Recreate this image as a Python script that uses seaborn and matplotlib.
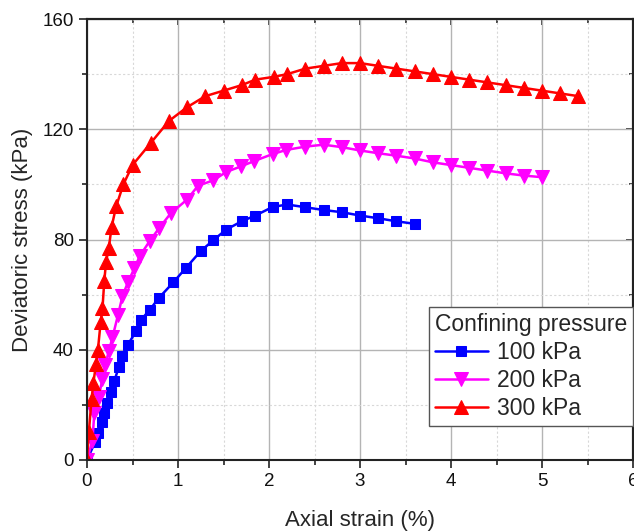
import numpy as np
import pandas as pd
import matplotlib
matplotlib.use("Agg")
import matplotlib.pyplot as plt
import seaborn as sns
from matplotlib.ticker import MultipleLocator

# ---- data ----
x_100 = [0, 0.09, 0.12, 0.16, 0.19, 0.22, 0.26, 0.30, 0.35, 0.39, 0.45, 0.54, 0.59, 0.69,
         0.79, 0.95, 1.09, 1.25, 1.39, 1.53, 1.70, 1.85, 2.04, 2.20, 2.40, 2.60, 2.80,
         3.00, 3.20, 3.40, 3.60]
y_100 = [0, 6.6, 9.7, 13.9, 16.9, 20.7, 24.7, 28.6, 33.8, 37.6, 41.9, 46.7, 50.7, 54.5,
         58.8, 64.5, 69.8, 75.8, 79.8, 83.6, 86.6, 88.7, 91.8, 92.7, 91.7, 90.7, 89.9,
         88.7, 87.7, 86.6, 85.7]

x_200 = [0, 0.06, 0.08, 0.13, 0.17, 0.20, 0.24, 0.28, 0.34, 0.39, 0.45, 0.52, 0.58, 0.69,
         0.79, 0.92, 1.10, 1.22, 1.39, 1.53, 1.69, 1.84, 2.04, 2.19, 2.40, 2.60, 2.80,
         3.00, 3.20, 3.40, 3.60, 3.80, 4.00, 4.20, 4.40, 4.60, 4.80, 5.00]
y_200 = [0, 7.0, 17.0, 23.0, 29.5, 34.5, 39.5, 44.5, 52.5, 59.5, 64.5, 69.5, 74.0, 79.5,
         84.0, 89.5, 94.5, 99.5, 101.5, 104.5, 106.5, 108.5, 111.0, 112.5, 113.7, 114.4, 113.5,
         112.3, 111.3, 110.4, 109.4, 108.0, 107.0, 106.0, 105.0, 104.0, 103.2, 102.6]

x_300 = [0, 0.02, 0.05, 0.07, 0.10, 0.12, 0.15, 0.17, 0.19, 0.21, 0.24, 0.27, 0.32, 0.40,
         0.50, 0.70, 0.90, 1.10, 1.30, 1.50, 1.70, 1.85, 2.05, 2.20, 2.40, 2.60, 2.80,
         3.00, 3.20, 3.40, 3.60, 3.80, 4.00, 4.20, 4.40, 4.60, 4.80, 5.00, 5.20, 5.40]
y_300 = [0, 10, 22, 28, 35, 40, 50, 55, 65, 72, 77, 84.5, 92, 100,
         107, 115, 123, 128, 132, 134, 136, 138, 139, 140, 142, 143, 144,
         144, 143, 142, 141, 140, 139, 138, 137, 136, 135, 134, 133, 132]

labels = ["100 kPa", "200 kPa", "300 kPa"]
colors = ["#0000FF", "#FF00FF", "#FF0000"]
markers = ["s", "v", "^"]
marker_sizes = [7, 9.5, 9.5]

frames = []
for lab, xs, ys in zip(labels, [x_100, x_200, x_300], [y_100, y_200, y_300]):
    frames.append(pd.DataFrame({"strain": xs, "stress": ys, "pressure": lab}))
df = pd.concat(frames, ignore_index=True)

sns.set_theme(style="ticks")
plt.rcParams["font.family"] = ["Liberation Sans", "DejaVu Sans"]

fig = plt.figure(figsize=(6.34, 5.31), dpi=100)
ax = fig.add_axes([87 / 634, 71 / 531, 546 / 634, 441 / 531])

# grid
ax.xaxis.set_major_locator(MultipleLocator(1))
ax.xaxis.set_minor_locator(MultipleLocator(0.5))
ax.yaxis.set_major_locator(MultipleLocator(40))
ax.yaxis.set_minor_locator(MultipleLocator(20))
ax.grid(True, which="major", color="#b4b4b4", lw=1.0, ls="-", zorder=0)
ax.grid(True, which="minor", color="#d8d8d8", lw=0.8, ls=(0, (2, 2)), zorder=0)
ax.set_axisbelow(True)

for lab, col, mk, ms in zip(labels, colors, markers, marker_sizes):
    sub = df[df["pressure"] == lab]
    sns.lineplot(data=sub, x="strain", y="stress", ax=ax, color=col, marker=mk,
                 markersize=ms, markeredgecolor=col, lw=1.8, sort=False,
                 estimator=None, label=lab)

ax.set_xlim(0, 6)
ax.set_ylim(0, 160)

ax.set_xlabel("Axial strain (%)", fontsize=16, labelpad=14)
ax.set_ylabel("Deviatoric stress (kPa)", fontsize=16, labelpad=7)

for s in ax.spines.values():
    s.set_visible(True)
    s.set_linewidth(1.5)
    s.set_color("#222222")

ax.tick_params(axis="both", which="major", labelsize=13.5, length=6, width=1.2,
               color="#222222", labelcolor="#111111", direction="out",
               top=False, right=False)
ax.tick_params(axis="both", which="minor", length=3.5, width=1.2, color="#222222",
               direction="out", top=False, right=False)

# inward ticks on top and right spines
axt = ax.secondary_xaxis("top")
axt.xaxis.set_major_locator(MultipleLocator(1))
axt.xaxis.set_minor_locator(MultipleLocator(0.5))
axt.tick_params(which="major", direction="in", length=4, width=1.2, labeltop=False)
axt.tick_params(which="minor", direction="in", length=3, width=1.2)
axt.spines["top"].set_linewidth(1.5)
axt.spines["top"].set_color("#222222")
axr = ax.secondary_yaxis("right")
axr.yaxis.set_major_locator(MultipleLocator(40))
axr.yaxis.set_minor_locator(MultipleLocator(20))
axr.tick_params(which="major", direction="in", length=5, width=1.2, labelright=False)
axr.tick_params(which="minor", direction="in", length=3, width=1.2)
axr.spines["right"].set_linewidth(1.5)
axr.spines["right"].set_color("#222222")

handles, labs = ax.get_legend_handles_labels()
leg = ax.legend(handles, labs, title="Confining pressure", fontsize=16.5,
                title_fontsize=16.5, loc="lower right", bbox_to_anchor=(1.0, 0.077),
                borderaxespad=0, frameon=True, fancybox=False, framealpha=1,
                edgecolor="#555555", handlelength=2.3, handletextpad=0.4,
                borderpad=0.25, labelspacing=0.22)
leg.get_frame().set_linewidth(1.0)
leg._legend_box.align = "left"

fig.savefig("out.png", dpi=100)
